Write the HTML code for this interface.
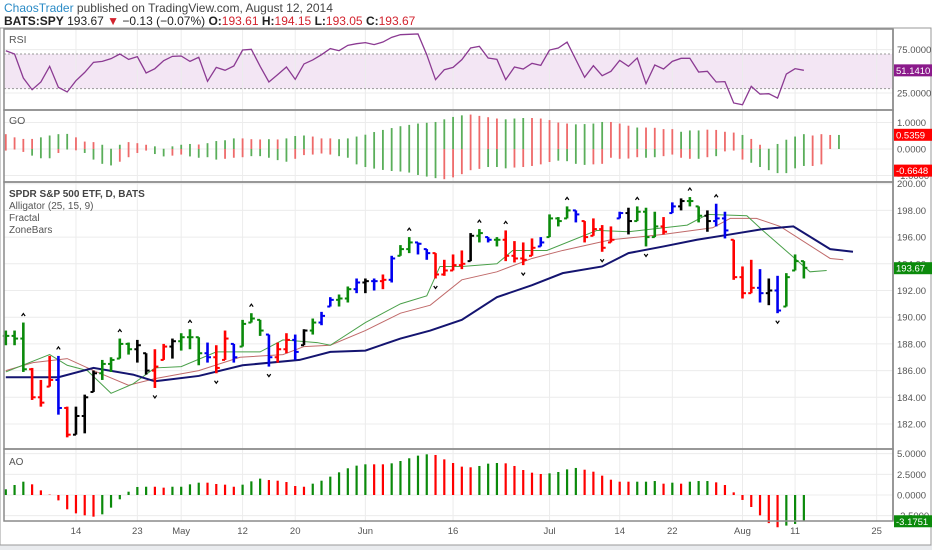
<!DOCTYPE html>
<html><head><meta charset="utf-8"><title>SPY chart</title>
<style>
body{margin:0;width:932px;height:550px;overflow:hidden;background:#fff;font-family:"Liberation Sans",sans-serif;}
#hdr1{position:absolute;left:4px;top:1px;font-size:12px;color:#444;}
#hdr1 .u{color:#2b8bc6;}
#hdr2{position:absolute;left:4px;top:14px;font-size:12px;color:#222;}
#hdr2 b{font-weight:bold}
.rd{color:#d2222d}
svg{position:absolute;left:0;top:0}
</style></head><body>
<div id="hdr1"><span class="u">ChaosTrader</span> published on TradingView.com, August 12, 2014</div>
<div id="hdr2"><b>BATS:SPY</b> 193.67 <span class="rd">▼</span> −0.13 (−0.07%) <b>O:</b><span class="rd">193.61</span> <b>H:</b><span class="rd">194.15</span> <b>L:</b><span class="rd">193.05</span> <b>C:</b><span class="rd">193.67</span></div>
<svg id="chart" width="932" height="550"></svg>
<script>
const highs=[189.0,189.0,189.6,186.2,185.3,187.1,187.1,183.3,183.3,184.2,186.0,186.8,187.0,188.4,188.1,188.3,187.3,187.6,188.0,188.4,188.8,189.1,188.5,188.1,187.9,189.0,188.0,189.8,190.3,189.8,188.7,188.1,188.8,188.7,189.1,189.9,190.4,191.5,191.7,192.3,192.9,192.9,192.9,193.2,194.6,195.4,196.0,195.6,195.1,194.8,194.3,194.7,195.0,196.3,196.6,196.0,196.0,196.5,195.7,195.6,195.9,196.0,197.7,197.5,198.3,198.0,197.2,197.4,196.9,196.8,197.9,198.2,198.3,198.2,197.9,197.5,198.6,198.9,199.0,198.3,198.0,198.5,197.9,195.8,193.8,194.3,193.6,192.9,193.1,193.3,194.7,194.2];
const lows=[187.9,187.9,185.9,183.8,183.3,184.8,182.7,181.0,181.2,181.3,184.4,185.3,185.9,186.9,187.2,186.6,185.7,184.7,186.8,186.9,187.5,187.6,186.4,186.6,185.8,186.8,186.6,187.8,189.6,188.6,186.3,186.6,187.3,186.8,187.9,188.7,189.4,190.8,190.8,191.1,191.8,191.8,192.0,192.1,192.6,194.6,194.8,194.7,194.3,192.9,193.1,193.5,193.6,194.2,195.6,195.6,195.3,194.2,194.1,193.9,194.6,195.3,196.0,196.8,197.4,197.1,195.6,196.1,194.9,195.6,197.4,196.2,197.2,195.3,196.0,196.2,197.8,198.0,198.3,197.1,196.4,196.8,195.9,192.8,191.4,191.8,191.1,190.9,190.3,190.8,193.5,192.9];
const closes=[188.6,188.4,186.1,184.0,183.6,185.3,183.2,181.2,182.6,184.0,185.8,186.5,186.8,188.0,187.6,187.9,186.0,186.3,187.8,188.2,188.5,188.5,187.3,187.0,186.2,188.4,187.0,189.5,189.9,189.0,187.0,187.6,188.3,187.4,189.0,189.6,190.1,191.3,191.4,192.1,192.6,192.7,192.7,192.8,194.4,195.1,195.6,195.5,194.8,193.2,193.5,193.9,194.0,196.1,196.3,195.8,195.8,194.6,194.4,194.3,195.2,195.6,197.4,197.2,198.0,197.7,196.0,196.6,195.2,195.8,197.8,197.2,197.9,196.0,196.8,196.4,198.3,198.7,198.7,197.6,197.2,197.4,196.5,193.0,191.8,192.2,191.8,192.0,190.5,193.0,194.2,193.7];
const barZones="gggrrrbrkkkggggkkrrkgggbrrbgggbrrbkgbbggbkbrbggbbrrrrkgbgrrrrbgggbrrrrbkgggrbkggkbbrrrbkbggg";
const fractalUp=[2,6,13,21,28,46,54,57,64,72,78,81];
const fractalDown=[17,24,30,49,59,68,73,88];
const jawIdx=[0,6,10,14.5,17,22,27,33.5,37,41,45,48.4,52,56,60,63.5,68,71,75,78.8,82.6,86.3,89.8,94,96.6];
const jawVal=[185.5,185.5,186.2,185.7,185.2,185.6,186.4,186.8,187.4,187.5,188.4,189.0,189.8,191.5,192.4,193.3,193.8,194.8,195.3,195.8,196.2,196.6,196.8,195.1,194.9];
const teethIdx=[0,3.1,7,10,14,17,22,26.7,31.6,34,37,41,45,48.4,52,56,60,63.5,69,75,80.6,82.6,85.6,88.3,94,95.5];
const teethVal=[186.0,186.6,186.9,186.0,184.9,185.4,186.0,187.0,187.2,187.8,187.9,189.0,190.3,190.9,192.8,193.4,194.4,195.0,195.8,196.2,196.7,197.4,197.4,196.8,194.4,194.3];
const lipsIdx=[0,5,7,9.3,12,14.5,17,20,24,29,31.6,35.5,37,41,45,48,49.5,52,56,57.8,61.7,67.4,71,77.7,80,84.5,86.3,89.8,91.7,93.6];
const lipsVal=[185.9,187.2,186.4,186.0,184.3,185.0,186.2,186.3,187.4,187.4,188.3,188.1,187.9,189.6,191.0,191.6,193.8,193.8,194.0,195.0,195.0,196.5,196.4,196.9,197.7,197.6,196.5,194.5,193.4,193.5];
const rsiVals=[73.8,70,42.3,28.8,37.7,55.8,31.5,26.2,39.2,48.8,60.4,61.5,64.6,70,63.8,66.9,48.1,53.1,62.3,67.3,67.7,61.5,66.2,38.5,54.6,51.2,56.2,74.6,75.4,55.8,37.7,46.2,55,40.8,58.5,63.1,69.2,76.2,73.8,80,81.9,83.1,80.8,83.8,89.2,92.3,92.7,93.1,69.2,40.4,51.9,54.6,63.5,76.9,78.8,65.4,63.8,40.4,55,52.7,59.2,56.9,74.6,76.9,83.8,63.5,43.1,56.5,45,50,62.7,55.8,65.4,35.8,57.3,52.7,61.5,65,65,49.2,50,37.7,38.1,13.5,11.5,32.7,23.8,24.2,19.2,46.9,53.1,51.2];
const goUp=[.56,.44,.38,.38,.44,.51,.56,.57,.44,.28,.26,.16,.01,.16,.26,.22,.16,.10,.01,.10,.16,.19,.17,.22,.30,.33,.40,.40,.37,.36,.37,.36,.40,.49,.51,.47,.40,.40,.37,.40,.47,.54,.64,.72,.79,.86,.91,.96,.99,1.02,1.12,1.21,1.27,1.30,1.25,1.20,1.15,1.12,1.15,1.17,1.17,1.15,1.09,1.00,.96,.93,.94,.96,1.02,1.02,.96,.88,.81,.81,.80,.75,.75,.65,.70,.70,.73,.72,.65,.62,.53,.38,.16,.01,.19,.35,.47,.56,.51,.56,.53,.53];
const goDown=[-.06,-.02,-.11,-.25,-.35,-.35,-.15,-.02,-.05,-.15,-.40,-.56,-.62,-.48,-.31,-.15,-.06,-.19,-.28,-.25,-.21,-.28,-.33,-.31,-.40,-.37,-.33,-.31,-.27,-.27,-.33,-.42,-.48,-.37,-.23,-.21,-.17,-.21,-.27,-.33,-.58,-.68,-.74,-.79,-.83,-.85,-.89,-.98,-1.04,-1.10,-1.14,-1.07,-.95,-.80,-.75,-.68,-.68,-.73,-.70,-.68,-.64,-.58,-.49,-.44,-.46,-.56,-.60,-.58,-.56,-.33,-.37,-.36,-.31,-.33,-.31,-.27,-.21,-.33,-.37,-.37,-.31,-.27,-.09,-.06,-.40,-.52,-.68,-.80,-.91,-.91,-.73,-.64,-.64,-.58,0,0];
const goUpColors="rrrrggggrrrgggrrrgggggrggggrrrgrgggrrrgggggggggggggggrrrrgggrrrrrggggrrrgrrrrgggrrrrgrrgggggrrr";
const goDownColors="rrrgggrgrggggrrrrggrrggggrrrgggggrrrrrggggggggggggrrrrrgggrrrrrggggrrrrrrggrrrrgrgrrrgggggggrrrrrr";
const aoVals=[0.69,1.21,1.61,1.29,.56,0.05,-.65,-1.73,-2.22,-2.46,-2.62,-2.34,-1.53,-.52,.4,.97,1.0,1.0,.89,1.0,1.0,1.29,1.49,1.49,1.33,1.25,1.0,1.25,1.65,1.98,1.81,1.73,1.57,1.09,1.0,1.37,1.73,2.22,2.74,3.23,3.55,3.71,3.71,3.71,3.83,4.11,4.44,4.76,4.92,4.84,4.31,3.87,3.43,3.35,3.51,3.79,3.87,3.83,3.51,3.02,2.70,2.54,2.62,2.78,3.10,3.27,3.06,2.82,2.34,1.85,1.61,1.61,1.61,1.61,1.69,1.37,1.49,1.37,1.61,1.69,1.69,1.53,1.21,.32,-.6,-1.45,-2.46,-3.4,-3.9,-3.7,-3.5,-3.18];
const aoColors="gggrrrrrrrrggggggrrggggrrrrgggrrrrrgggggggrrgggggrrrrrgggrrrrrggggrrrrrrgggrgrgggrrrrrrrrggg";
const xLabels=["14","23","May","12","20","Jun","16","Jul","14","22","Aug","11","25"];
const xLabelIdx=[8,15,20,27,33,41,51,62,70,76,84,90,99.3];
const priceTicks=[182,184,186,188,190,192,194,196,198,200];
const rsiTicks=[25,75];
const goTicks=[-1,0,1];
const aoTicks=[-2.5,0,2.5,5];

const NS="http://www.w3.org/2000/svg";
const svg=document.getElementById('chart');
function mk(tag,a,parent){const e=document.createElementNS(NS,tag);for(const k in a)e.setAttribute(k,a[k]);(parent||svg).appendChild(e);return e;}
const L=4,R=893;
const xOf=i=>5.8+i*8.77;
const yP=p=>424-(p-182)*13.35;
const yR=v=>54-(v-70)*0.867;
const yG=v=>149-v*26.5;
const yA=v=>495-v*8.27;
const COL={g:"#0b8a0b",r:"#f00",b:"#0000f0",k:"#000"};
const GOC={g:"#5aae5a",r:"#ee6a6a"};

let e=mk('rect',{x:0,y:545,width:932,height:5,fill:'#e9ebee'});


e=mk('rect',{x:L,y:yR(70),width:R-L,height:yR(30)-yR(70),fill:'#f3e6f4'});



const g=mk('g',{stroke:'#ececec','stroke-width':1});


xLabelIdx.forEach(i=>{const l=mk('line',{x1:xOf(i),x2:xOf(i),y1:29,y2:521},g);

});
priceTicks.forEach(p=>{const l=mk('line',{x1:L,x2:R,y1:yP(p),y2:yP(p)},g);

});
rsiTicks.forEach(v=>{const l=mk('line',{x1:L,x2:R,y1:yR(v),y2:yR(v)},g);

});
goTicks.forEach(v=>{const l=mk('line',{x1:L,x2:R,y1:yG(v),y2:yG(v)},g);

});
aoTicks.forEach(v=>{const l=mk('line',{x1:L,x2:R,y1:yA(v),y2:yA(v)},g);

});
[70,30].forEach(v=>{const l=mk('line',{x1:L,x2:R,y1:yR(v),y2:yR(v),stroke:'#999','stroke-dasharray':'2,2'});

});

e=mk('polyline',{points:rsiVals.map((v,i)=>xOf(i)+','+yR(v)).join(' '),fill:'none',stroke:'#8b3a92','stroke-width':1.3});



goUp.forEach((v,i)=>{const l=mk('line',{x1:xOf(i),x2:xOf(i),y1:yG(0),y2:yG(v),stroke:GOC[goUpColors[i]]||GOC.g,'stroke-width':1.8});

});
goDown.forEach((v,i)=>{const l=mk('line',{x1:xOf(i),x2:xOf(i),y1:yG(0),y2:yG(v),stroke:GOC[goDownColors[i]]||GOC.g,'stroke-width':1.8});

});

function line(idx,vals,color,w,name){const p=mk('polyline',{points:idx.map((i,k)=>xOf(i)+','+yP(vals[k])).join(' '),fill:'none',stroke:color,'stroke-width':w});

}
line(teethIdx,teethVal,'#c06a6a',1,'alligator-teeth');
line(lipsIdx,lipsVal,'#4aa04a',1,'alligator-lips');
line(jawIdx,jawVal,'#141470',2,'alligator-jaw');

highs.forEach((h,i)=>{const c=COL[barZones[i]]||'#000';const x=xOf(i);
const bg=mk('g',{stroke:c});


mk('line',{x1:x,x2:x,y1:yP(h),y2:yP(lows[i]),'stroke-width':2.6},bg);
const o=i>0?closes[i-1]:closes[i];
const oc=Math.min(Math.max(o,lows[i]),h);
mk('line',{x1:x-3,x2:x,y1:yP(oc),y2:yP(oc),'stroke-width':2},bg);
mk('line',{x1:x,x2:x+3.5,y1:yP(closes[i]),y2:yP(closes[i]),'stroke-width':2},bg);});

fractalUp.forEach(i=>{const x=xOf(i),y=yP(highs[i])-8;
const f=mk('polyline',{points:`${x-1.8},${y+1.5} ${x},${y-1} ${x+1.8},${y+1.5}`,fill:'none',stroke:'#000','stroke-width':1.2});

});
fractalDown.forEach(i=>{const x=xOf(i),y=yP(lows[i])+9;
const f=mk('polyline',{points:`${x-1.8},${y-1.5} ${x},${y+1} ${x+1.8},${y-1.5}`,fill:'none',stroke:'#000','stroke-width':1.2});

});

aoVals.forEach((v,i)=>{const l=mk('line',{x1:xOf(i),x2:xOf(i),y1:yA(0),y2:yA(v),stroke:COL[aoColors[i]]||COL.g,'stroke-width':2.2});

});

[[29,110],[110,182],[182,449],[449,521]].forEach(([a,b])=>{const r=mk('rect',{x:L,y:a,width:R-L,height:b-a,fill:'none',stroke:'#8a8a8a','stroke-width':1.5});

});
e=mk('rect',{x:0,y:28,width:931,height:517,fill:'none',stroke:'#999','stroke-width':1});


e=mk('line',{x1:R,x2:R,y1:29,y2:521,stroke:'#8a8a8a','stroke-width':1.5});



function txt(x,y,s,opt,name,inter){const t=mk('text',Object.assign({x:x,y:y,'font-size':9.5,fill:'#555','font-family':'Liberation Sans, sans-serif'},opt||{}));t.textContent=s;

return t;}
priceTicks.forEach(p=>{txt(R+4,yP(p)+3.5,p.toFixed(2),{},'price-tick-label');});
rsiTicks.forEach(v=>{txt(R+4,yR(v)+3.5,v.toFixed(4),{},'rsi-tick-label');});
goTicks.forEach(v=>{txt(R+4,yG(v)+3.5,v.toFixed(4),{},'go-tick-label');});
aoTicks.forEach(v=>{txt(R+4,yA(v)+3.5,v.toFixed(4),{},'ao-tick-label');});
xLabels.forEach((s,k)=>{txt(xOf(xLabelIdx[k]),534,s,{'text-anchor':'middle'},'x-tick-label');});
function tag(y,c,s,n){const r=mk('rect',{x:R+1,y:y-6,width:38,height:12,fill:c});


txt(R+3,y+3.5,s,{fill:'#fff'},n+'-text');}
tag(yG(0.5359),'#f00','0.5359','go-last-upper-tag');
tag(yG(-0.6648)+4,'#f00','-0.6648','go-last-lower-tag');
tag(yR(51.141),'#8b1a8b','51.1410','rsi-last-tag');
tag(yP(193.67),'#0b8a0b','193.67','price-last-tag');
tag(yA(-3.1751),'#0b8a0b','-3.1751','ao-last-tag');

txt(9,43,'RSI',{'font-size':10.5,fill:'#555'},'rsi-title',true);
txt(9,124,'GO',{'font-size':10.5,fill:'#555'},'go-title',true);
txt(9,197,'SPDR S&P 500 ETF, D, BATS',{'font-size':10,fill:'#444','font-weight':'bold'},'main-title',true);
txt(9,209,'Alligator (25, 15, 9)',{'font-size':10,fill:'#555'},'alligator-legend',true);
txt(9,221,'Fractal',{'font-size':10,fill:'#555'},'fractal-legend',true);
txt(9,233,'ZoneBars',{'font-size':10,fill:'#555'},'zonebars-legend',true);
txt(9,465,'AO',{'font-size':10,fill:'#555'},'ao-title',true);
</script>
</body></html>
